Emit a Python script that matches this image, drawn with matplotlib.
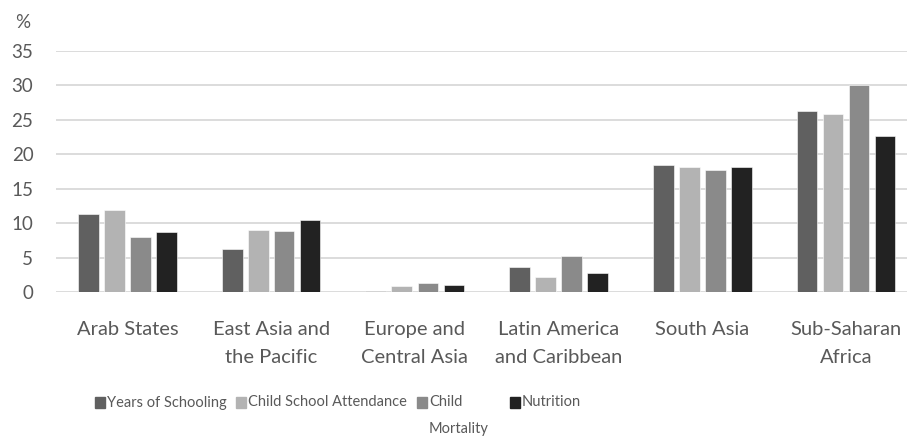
import matplotlib
matplotlib.use("Agg")
import matplotlib.pyplot as plt
import numpy as np
from matplotlib.patches import Rectangle

# Данные по регионам
regions = ["Arab States", "East Asia and\nthe Pacific", "Europe and\nCentral Asia",
           "Latin America\nand Caribbean", "South Asia", "Sub-Saharan\nAfrica"]
years_of_schooling = [11.4, 6.3, 0.2, 3.7, 18.4, 26.2]
child_school_attendance = [11.9, 9.0, 0.9, 2.2, 18.1, 25.9]
child_mortality = [8.0, 8.9, 1.35, 5.2, 17.7, 30.0]
nutrition = [8.8, 10.5, 1.05, 2.85, 18.1, 22.6]

series_names = ["Years of Schooling", "Child School Attendance", "Child\nMortality", "Nutrition"]
colors = ["#606060", "#b3b3b3", "#8a8a8a", "#222222"]

plt.rcParams['font.family'] = ['Lato', 'DejaVu Sans']
text_color = "#595959"

W, H = 907, 438
fig = plt.figure(figsize=(W / 100, H / 100), dpi=100)

# Область графика (в пикселях)
left_px, right_px = 55.6, 907
top_px, bottom_px = 50.7, 292.3
ax = fig.add_axes([left_px / W, 1 - bottom_px / H, (right_px - left_px) / W, (bottom_px - top_px) / H])

cat_w = 143.7  # ширина категории в пикселях
x = np.arange(len(regions))
pitch = 26.0 / cat_w
bar_w = 20.7 / cat_w
all_series = [years_of_schooling, child_school_attendance, child_mortality, nutrition]
for i, (vals, c) in enumerate(zip(all_series, colors)):
    ax.bar(x + (i - 1.5) * pitch, vals, width=bar_w, color=c, edgecolor="white",
           linewidth=0.4, zorder=3)

ax.set_xlim(-0.5, -0.5 + (right_px - left_px) / cat_w)
ax.set_ylim(0, 35)
ax.set_yticks(range(0, 36, 5))
ax.yaxis.grid(True, color="#d9d9d9", linewidth=1.3, zorder=0)
ax.tick_params(axis="y", length=0, pad=16, labelsize=13.5, labelcolor=text_color)
ax.set_xticks([])
for s in ax.spines.values():
    s.set_visible(False)

# Подписи категорий
for xi, name in zip(x, regions):
    ax.text(xi, -0.12, name, transform=ax.get_xaxis_transform(), ha="center", va="top",
            fontsize=14.5, color=text_color, linespacing=1.75)

fig.text(23 / W, 1 - 23 / H, "%", ha="center", va="center", fontsize=13.5, color=text_color)

# Легенда вручную
leg_x = [95, 236, 417, 510]
leg_y = 402.5
for lx, name, c in zip(leg_x, series_names, colors):
    fig.patches.append(Rectangle((lx / W, 1 - (leg_y + 5.5) / H), 10 / W, 11 / H,
                                 transform=fig.transFigure, color=c))
    first, *rest = name.split("\n")
    fig.text((lx + 12) / W, 1 - leg_y / H, first, ha="left", va="center",
             fontsize=10.5, color=text_color)
    for k, line in enumerate(rest, 1):
        fig.text((lx + 12) / W, 1 - (leg_y + 27 * k) / H, line, ha="left", va="center",
                 fontsize=10.5, color=text_color)

fig.savefig("out.png", dpi=100)
